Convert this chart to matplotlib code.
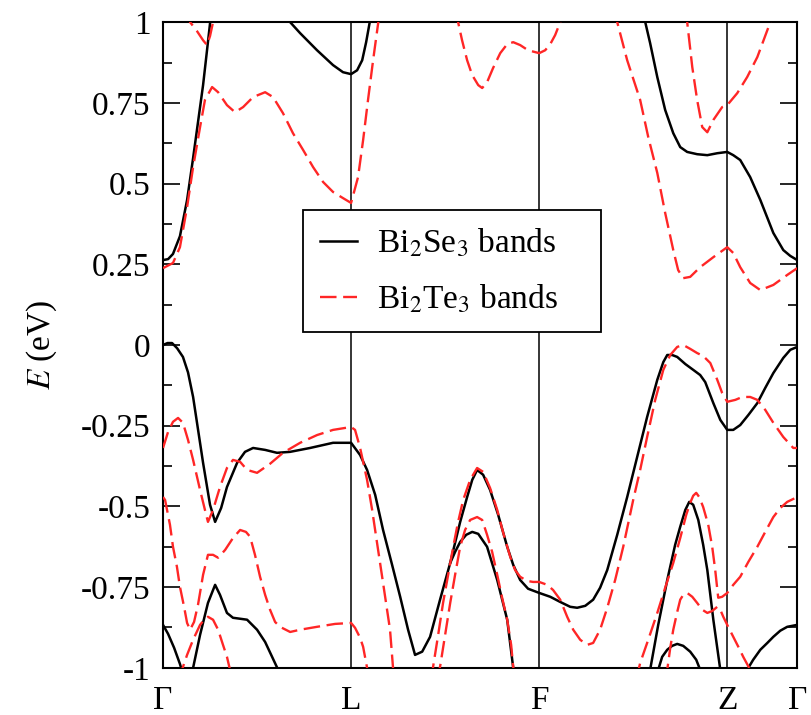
import numpy as np
import matplotlib.pyplot as plt

plt.rcParams['font.family'] = ['Liberation Serif', 'DejaVu Serif']
plt.rcParams['mathtext.fontset'] = 'stix'

# high-symmetry points along the path (Gamma-L distance = 1)
kpoint_pos = [0.0, 1.0, 2.0, 3.0, 3.372]
kpoint_labels = ['Γ', 'L', 'F', 'Z', 'Γ']

yticks = [1, 0.75, 0.5, 0.25, 0, -0.25, -0.5, -0.75, -1]
ytick_labels = ['1', '0.75', '0.5', '0.25', '0', '-0.25', '-0.5', '-0.75', '-1']

# ---- Bi2Se3 bands (k, E in eV) ----
se_c1 = [(0, 0.263), (0.027, 0.266), (0.053, 0.282), (0.090, 0.337), (0.128, 0.449),
         (0.160, 0.579), (0.186, 0.690), (0.213, 0.805), (0.234, 0.913), (0.255, 1.022)]
se_c2 = [(0.638, 1.019), (0.676, 1.0), (0.729, 0.966), (0.819, 0.913), (0.904, 0.867),
         (0.957, 0.845), (1.0, 0.839), (1.032, 0.851), (1.059, 0.882), (1.080, 0.938),
         (1.101, 1.006)]
se_c3 = [(2.548, 1.037), (2.564, 1.0), (2.590, 0.935), (2.628, 0.830), (2.670, 0.728),
         (2.713, 0.656), (2.750, 0.613), (2.787, 0.598), (2.840, 0.591), (2.894, 0.588),
         (2.947, 0.594), (3.0, 0.598), (3.032, 0.588), (3.069, 0.573), (3.122, 0.520),
         (3.176, 0.449), (3.245, 0.347), (3.298, 0.294), (3.335, 0.276), (3.372, 0.263)]
se_v1 = [(0, 0), (0.024, 0.006), (0.048, 0.006), (0.075, -0.010), (0.106, -0.037),
         (0.133, -0.085), (0.160, -0.161), (0.213, -0.365),
         (0.250, -0.495), (0.277, -0.548), (0.309, -0.505), (0.340, -0.440), (0.394, -0.365),
         (0.436, -0.331), (0.479, -0.319), (0.543, -0.325), (0.606, -0.334), (0.676, -0.331),
         (0.782, -0.319), (0.904, -0.303), (1.0, -0.303), (1.048, -0.341), (1.085, -0.387),
         (1.128, -0.464), (1.170, -0.573), (1.218, -0.681), (1.261, -0.780), (1.303, -0.882),
         (1.340, -0.960), (1.378, -0.950), (1.420, -0.904), (1.473, -0.789), (1.527, -0.675),
         (1.580, -0.548), (1.617, -0.471), (1.644, -0.418), (1.670, -0.387), (1.702, -0.402),
         (1.739, -0.449), (1.782, -0.526), (1.830, -0.625), (1.862, -0.681), (1.899, -0.728),
         (1.941, -0.755), (2.0, -0.768), (2.059, -0.780), (2.112, -0.796), (2.165, -0.811),
         (2.202, -0.814), (2.245, -0.808), (2.287, -0.789), (2.324, -0.752), (2.362, -0.697),
         (2.415, -0.588), (2.468, -0.471), (2.521, -0.347), (2.574, -0.223), (2.628, -0.108),
         (2.660, -0.053), (2.681, -0.031), (2.707, -0.031), (2.734, -0.037), (2.777, -0.059),
         (2.819, -0.077), (2.856, -0.093), (2.883, -0.115), (2.926, -0.180), (2.963, -0.232),
         (3.0, -0.263), (3.032, -0.263), (3.069, -0.248), (3.112, -0.217), (3.160, -0.180),
         (3.202, -0.133), (3.245, -0.087), (3.298, -0.040), (3.335, -0.015), (3.372, -0.006)]
se_v2 = [(1.527, -0.675), (1.553, -0.641), (1.580, -0.610), (1.612, -0.588), (1.644, -0.579),
         (1.676, -0.585), (1.723, -0.625), (1.777, -0.728), (1.830, -0.851), (1.862, -1.0),
         (1.872, -1.053)]
se_v3 = [(0, -0.867), (0.027, -0.895), (0.059, -0.938), (0.090, -0.988), (0.112, -1.031)]
se_v4 = [(0.144, -1.037), (0.160, -1.0), (0.197, -0.898), (0.239, -0.799), (0.277, -0.743),
         (0.303, -0.774), (0.340, -0.830), (0.372, -0.845), (0.410, -0.848), (0.447, -0.851),
         (0.500, -0.882), (0.543, -0.920), (0.580, -0.966), (0.612, -1.006), (0.633, -1.037)]
se_v5 = [(2.580, -1.037), (2.590, -1.006), (2.633, -0.867), (2.681, -0.728), (2.723, -0.619),
         (2.750, -0.563), (2.777, -0.511), (2.798, -0.486), (2.819, -0.495), (2.846, -0.542),
         (2.872, -0.619), (2.894, -0.697), (2.926, -0.851), (2.963, -1.006), (2.973, -1.037)]
se_v6 = [(2.622, -1.037), (2.633, -1.006), (2.654, -0.966), (2.681, -0.944), (2.707, -0.932),
         (2.734, -0.926), (2.766, -0.932), (2.803, -0.950), (2.835, -0.975), (2.856, -1.006),
         (2.867, -1.037)]
se_v7 = [(3.096, -1.037), (3.106, -1.006), (3.138, -0.975), (3.176, -0.944), (3.213, -0.923),
         (3.245, -0.904), (3.282, -0.885), (3.319, -0.873), (3.372, -0.867)]

# ---- Bi2Te3 bands (k, E in eV) ----
te_c1 = [(0, 0.238), (0.053, 0.254), (0.090, 0.303), (0.128, 0.427), (0.160, 0.551),
         (0.197, 0.675), (0.223, 0.759), (0.261, 0.799), (0.293, 0.783), (0.340, 0.743),
         (0.383, 0.721), (0.426, 0.737), (0.479, 0.768), (0.543, 0.783), (0.585, 0.768),
         (0.638, 0.718), (0.691, 0.656), (0.745, 0.604), (0.798, 0.551), (0.851, 0.505),
         (0.904, 0.474), (0.957, 0.455), (1.0, 0.440), (1.037, 0.520), (1.064, 0.635),
         (1.090, 0.759), (1.117, 0.882), (1.144, 0.997), (1.154, 1.037)]
te_c2 = [(0.128, 1.037), (0.144, 1.0), (0.181, 0.972), (0.213, 0.944), (0.234, 0.929),
         (0.250, 0.957), (0.266, 1.0), (0.277, 1.037)]
te_c3 = [(1.553, 1.037), (1.569, 1.0), (1.590, 0.944), (1.617, 0.882), (1.644, 0.836),
         (1.676, 0.805), (1.697, 0.796), (1.723, 0.814), (1.755, 0.858), (1.793, 0.904),
         (1.830, 0.932), (1.862, 0.938), (1.899, 0.929), (1.941, 0.913), (2.0, 0.904),
         (2.032, 0.913), (2.059, 0.932), (2.085, 0.960), (2.112, 1.0), (2.122, 1.022)]
te_c4 = [(2.394, 1.037), (2.415, 1.0), (2.468, 0.882), (2.537, 0.759), (2.580, 0.644),
         (2.628, 0.533), (2.670, 0.409), (2.713, 0.294), (2.739, 0.232), (2.766, 0.207),
         (2.803, 0.211), (2.856, 0.241), (2.926, 0.272), (3.0, 0.303), (3.032, 0.285),
         (3.069, 0.241), (3.122, 0.192), (3.176, 0.170), (3.245, 0.186), (3.319, 0.217),
         (3.372, 0.238)]
te_c5 = [(2.782, 1.037), (2.787, 1.0), (2.814, 0.861), (2.840, 0.759), (2.867, 0.675),
         (2.894, 0.659), (2.926, 0.697), (2.973, 0.737), (3.0, 0.743), (3.053, 0.780),
         (3.106, 0.830), (3.160, 0.892), (3.229, 1.0), (3.250, 1.037)]
te_v1 = [(0, -0.319), (0.027, -0.269), (0.053, -0.238), (0.080, -0.226), (0.106, -0.241),
         (0.133, -0.294), (0.160, -0.356), (0.197, -0.449), (0.223, -0.511), (0.239, -0.548),
         (0.266, -0.511), (0.303, -0.440), (0.340, -0.381), (0.372, -0.356), (0.410, -0.362),
         (0.447, -0.387), (0.500, -0.396), (0.569, -0.368), (0.638, -0.334), (0.729, -0.303),
         (0.819, -0.279), (0.904, -0.263), (1.0, -0.254), (1.021, -0.263), (1.048, -0.319),
         (1.085, -0.418), (1.112, -0.511), (1.138, -0.613), (1.170, -0.737), (1.207, -0.882),
         (1.223, -1.0), (1.234, -1.037)]
te_v2 = [(1.426, -1.037), (1.436, -0.997), (1.463, -0.898), (1.489, -0.799), (1.516, -0.712),
         (1.543, -0.625), (1.569, -0.548), (1.596, -0.480), (1.633, -0.418), (1.670, -0.381),
         (1.702, -0.393), (1.739, -0.443), (1.777, -0.511), (1.809, -0.582), (1.846, -0.656),
         (1.872, -0.697), (1.899, -0.718), (1.936, -0.731), (1.968, -0.734), (2.0, -0.734),
         (2.043, -0.743), (2.074, -0.759), (2.112, -0.789), (2.149, -0.842), (2.181, -0.882),
         (2.218, -0.913), (2.255, -0.929), (2.287, -0.923), (2.324, -0.882), (2.362, -0.814),
         (2.404, -0.728), (2.447, -0.625), (2.500, -0.480), (2.537, -0.387), (2.574, -0.285),
         (2.617, -0.170), (2.660, -0.077), (2.697, -0.031), (2.734, -0.006), (2.766, 0.0),
         (2.803, -0.012), (2.840, -0.025), (2.872, -0.034), (2.910, -0.056), (2.947, -0.108),
         (2.973, -0.149), (3.0, -0.176), (3.043, -0.170), (3.080, -0.161), (3.122, -0.161),
         (3.160, -0.170), (3.202, -0.201), (3.245, -0.241), (3.298, -0.285), (3.351, -0.319),
         (3.372, -0.319)]
te_v3 = [(1.452, -1.037), (1.473, -0.997), (1.500, -0.898), (1.527, -0.799), (1.553, -0.712),
         (1.580, -0.625), (1.606, -0.573), (1.633, -0.542), (1.670, -0.533), (1.697, -0.542),
         (1.723, -0.588), (1.750, -0.641), (1.777, -0.712), (1.803, -0.783), (1.830, -0.851),
         (1.851, -0.929), (1.862, -0.997), (1.872, -1.037)]
te_v4 = [(0, -0.471), (0.011, -0.480), (0.037, -0.557), (0.053, -0.625), (0.074, -0.687),
         (0.090, -0.749), (0.112, -0.811), (0.128, -0.861), (0.144, -0.882), (0.165, -0.858),
         (0.186, -0.805), (0.213, -0.712), (0.239, -0.650), (0.266, -0.650), (0.293, -0.659),
         (0.330, -0.635), (0.372, -0.598), (0.410, -0.573), (0.441, -0.579), (0.463, -0.594),
         (0.489, -0.650), (0.516, -0.718), (0.543, -0.774), (0.569, -0.820), (0.596, -0.858),
         (0.622, -0.873), (0.676, -0.889), (0.729, -0.882), (0.819, -0.873), (0.915, -0.864),
         (1.0, -0.861), (1.021, -0.876), (1.048, -0.907), (1.064, -0.935), (1.085, -1.0),
         (1.096, -1.037)]
te_v5 = [(0.085, -1.037), (0.101, -1.006), (0.128, -0.960), (0.160, -0.913), (0.197, -0.867),
         (0.223, -0.848), (0.239, -0.842), (0.266, -0.851), (0.293, -0.882), (0.319, -0.929),
         (0.340, -0.966), (0.356, -1.006), (0.367, -1.037)]
te_v6 = [(2.516, -1.037), (2.537, -0.985), (2.580, -0.913), (2.628, -0.830), (2.670, -0.752),
         (2.713, -0.675), (2.750, -0.598), (2.782, -0.526), (2.803, -0.489), (2.819, -0.467),
         (2.835, -0.458), (2.851, -0.471), (2.872, -0.502), (2.899, -0.557), (2.920, -0.625),
         (2.936, -0.697), (2.952, -0.783), (2.973, -0.780), (3.0, -0.768), (3.032, -0.743),
         (3.069, -0.718), (3.112, -0.672), (3.160, -0.625), (3.202, -0.579), (3.245, -0.533),
         (3.282, -0.505), (3.319, -0.486), (3.372, -0.471)]
te_v7 = [(2.665, -1.037), (2.681, -1.006), (2.697, -0.938), (2.713, -0.882), (2.734, -0.827),
         (2.750, -0.789), (2.766, -0.774), (2.787, -0.768), (2.814, -0.780), (2.840, -0.799),
         (2.867, -0.820), (2.894, -0.830), (2.920, -0.824), (2.947, -0.811), (2.963, -0.820),
         (2.979, -0.842), (3.005, -0.873), (3.032, -0.904), (3.059, -0.935), (3.085, -0.966),
         (3.122, -1.006), (3.144, -1.037)]

se_bands = [se_c1, se_c2, se_c3, se_v1, se_v2, se_v3, se_v4, se_v5, se_v6, se_v7]
te_bands = [te_c1, te_c2, te_c3, te_c4, te_c5, te_v1, te_v2, te_v3, te_v4, te_v5, te_v6, te_v7]

RED = '#ff2626'

fig = plt.figure(figsize=(8.11, 7.15), dpi=100)
ax = fig.add_axes([0.201, 0.066, 0.782, 0.903])

for i, b in enumerate(te_bands):
    b = np.array(b)
    ax.plot(b[:, 0], b[:, 1], color=RED, lw=1.7, dashes=(7, 2.8),
            dash_joinstyle='round', dash_capstyle='butt',
            label='Bi$_2$Te$_3$ bands    ' if i == 0 else None, zorder=3)
for i, b in enumerate(se_bands):
    b = np.array(b)
    ax.plot(b[:, 0], b[:, 1], color='black', lw=1.8, solid_joinstyle='round',
            label='Bi$_2$Se$_3$ bands    ' if i == 0 else None, zorder=2)

for k in kpoint_pos[1:-1]:
    ax.axvline(k, color='black', lw=1.1, zorder=1)

ax.set_xlim(kpoint_pos[0], kpoint_pos[-1])
ax.set_ylim(-1, 1)

ax.set_xticks(kpoint_pos)
ax.set_xticklabels(kpoint_labels)
ax.set_yticks(yticks)
ax.set_yticklabels(ytick_labels)
ax.set_yticks(np.arange(-0.875, 1.0, 0.25), minor=True)
ax.tick_params(axis='x', length=0, labelsize=24, pad=13)
ax.tick_params(axis='y', which='both', direction='in', left=True, right=True,
               labelsize=24, pad=9, width=1.2)
ax.tick_params(axis='y', which='major', length=12)
ax.tick_params(axis='y', which='minor', length=6.5)
for s in ax.spines.values():
    s.set_linewidth(1.5)

ax.set_ylabel('$E$ (eV)', fontsize=24, labelpad=16)

handles, labels = ax.get_legend_handles_labels()
leg = ax.legend(handles[::-1], labels[::-1], loc='upper left',
                bbox_to_anchor=(0.221, 0.709), borderaxespad=0, fontsize=24,
                fancybox=False, framealpha=1, edgecolor='black',
                handlelength=1.1, handletextpad=0.6, borderpad=0.5, labelspacing=0.72)
leg.get_frame().set_linewidth(1.3)

fig.savefig('out.png', dpi=100)
